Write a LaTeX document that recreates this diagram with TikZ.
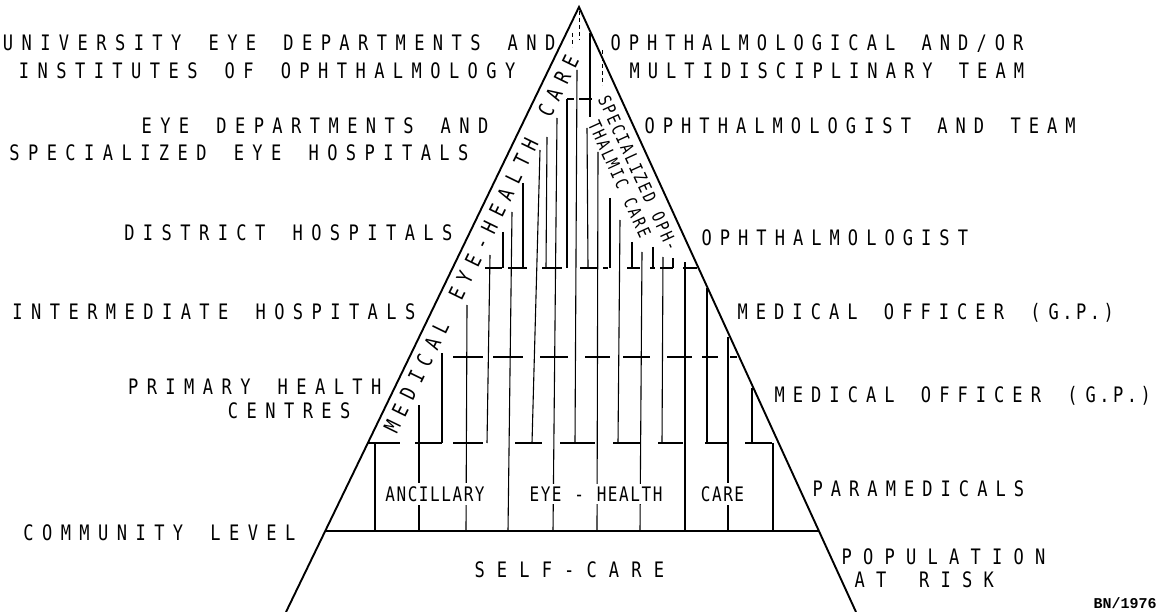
\documentclass[tikz,border=0pt]{standalone}
\usepackage{fontspec}
\usetikzlibrary{calc}
\newfontfamily\plotfont[FakeStretch=0.8]{DejaVu Sans Mono}
\newfontfamily\stampfont{Liberation Mono}
\ExplSyntaxOn
\NewDocumentCommand\spc{mm}
  {
    \str_map_inline:nn {#2}
      {
        \str_if_eq:nnTF {##1} {.}
          { \makebox[0.5\dimexpr #1\relax][c]{.} }
          { \makebox[#1][c]{##1} }
      }
  }
\ExplSyntaxOff
\begin{document}
\begin{tikzpicture}[x=1pt,y=-1pt,
  lab/.style={font=\plotfont\fontsize{21.3}{24}\selectfont, inner sep=0pt},
  sml/.style={font=\plotfont\fontsize{20}{22}\selectfont, inner sep=0pt},
  rot/.style={font=\plotfont\fontsize{17.5}{20}\selectfont, inner sep=0pt},
  tri/.style={line width=1.9pt, line join=miter},
  vl/.style={line width=1.1pt},
  baseln/.style={line width=1.8pt},
  dsh/.style={line width=1pt, dash pattern=on 4pt off 3pt},
  gap/.style={fill=white, inner xsep=2pt, inner ysep=3pt}]
\useasboundingbox (0,0) rectangle (1166,612);
\fill[white] (0,0) rectangle (1166,612);
% triangle
\coordinate (apex) at (579,7);
\coordinate (bl) at (286,612);
\coordinate (br) at (856,612);
\coordinate (eL) at ($(apex)!0.8661!(bl)$);
\coordinate (eR) at ($(apex)!0.8661!(br)$);
% horizontal level segments
\foreach \a/\b in {485/502, 508/527, 542/562, 580/598, 603/608, 627/640, 650/655, 660/673, 683/697}
  \draw[vl] (\a,268) -- (\b,268);
\foreach \a/\b in {453/483, 493/523, 540/568, 585/610, 623/650, 667/692, 702/718, 730/737}
  \draw[vl] (\a,357) -- (\b,357);
\foreach \a/\b in {368/400, 415/442, 453/483, 515/542, 560/595, 613/640, 658/683, 705/728, 745/772}
  \draw[vl] (\a,443) -- (\b,443);
\foreach \a/\b in {567/574, 579/592}
  \draw[vl] (\a,99) -- (\b,99);
% vertical lines
\foreach \xa/\ya/\xb/\yb in {
  375/443/375/531, 419/405/419/531, 467/305/466/531, 512/212/508/531,
  557/118/553/531, 598/152/597/531, 642/252/640/531, 685/262/685/531,
  728/337/728/531, 773/443/773/531,
  442/353/442/443, 490/255/487/443, 540/150/532/443, 577/70/575/443,
  620/220/618/443, 663/257/662/443, 707/288/707/443, 752/388/752/443,
  503/232/503/268, 523/183/523/268, 547/137/546/268, 567/99/567/268,
  587/128/588/268, 610/198/610/268, 632/242/632/268, 653/247/653/268,
  673/258/673/268, 590/33/590/117}
  \draw[vl] (\xa,\ya) -- (\xb,\yb);
\foreach \xa/\ya/\xb/\yb in {579/11/579/40, 602/50/602/85, 572/33/572/47}
  \draw[dsh] (\xa,\ya) -- (\xb,\yb);
\draw[baseln] (eL) -- (eR);
\draw[tri] (bl) -- (apex) -- (br);
% texts inside
\node[lab, anchor=west, rotate=64] (medtxt) at (387.9,435.3) {\spc{18.5pt}{MEDICAL EYE-HEALTH CARE}};
\node[rot, anchor=west, rotate=-65.4] (spec1) at (602.8,95.2) {\spc{10.7pt}{SPECIALIZED OPH-}};
\node[rot, anchor=west, rotate=-65.4] (spec2) at (592.8,120.2) {\spc{10.7pt}{THALMIC CARE}};
\node[sml, gap] (anc) at (435,494) {\spc{11.2pt}{ANCILLARY}};
\node[sml, gap] (eyeh) at (596,494) {\spc{11.2pt}{EYE - HEALTH}};
\node[sml, gap] (care) at (722.5,494) {\spc{11.2pt}{CARE}};
\node[lab, anchor=base west] (self) at (468.3,577.25) {\spc{22.4pt}{SELF-CARE}};
% left labels
\node[lab, anchor=base east] (l1a) at (559.85,50.75) {\spc{18.7pt}{UNIVERSITY EYE DEPARTMENTS AND}};
\node[lab, anchor=base east] (l1b) at (519.85,78.75) {\spc{18.7pt}{INSTITUTES OF OPHTHALMOLOGY}};
\node[lab, anchor=base east] (l2a) at (492.85,133.75) {\spc{18.7pt}{EYE DEPARTMENTS AND}};
\node[lab, anchor=base east] (l2b) at (472.85,160.75) {\spc{18.7pt}{SPECIALIZED EYE HOSPITALS}};
\node[lab, anchor=base east] (l3) at (456.85,240.75) {\spc{18.7pt}{DISTRICT HOSPITALS}};
\node[lab, anchor=base east] (l4) at (419.85,319.75) {\spc{18.7pt}{INTERMEDIATE HOSPITALS}};
\node[lab, anchor=base east] (l5a) at (385.85,394.75) {\spc{18.7pt}{PRIMARY HEALTH}};
\node[lab, anchor=base east] (l5b) at (354.85,418.75) {\spc{18.7pt}{CENTRES}};
\node[lab, anchor=base east] (l6) at (299.85,540.25) {\spc{18.7pt}{COMMUNITY LEVEL}};
% right labels
\node[lab, anchor=base west] (r1a) at (606.35,50.75) {\spc{18.3pt}{OPHTHALMOLOGICAL AND/OR}};
\node[lab, anchor=base west] (r1b) at (625.35,78.75) {\spc{18.3pt}{MULTIDISCIPLINARY TEAM}};
\node[lab, anchor=base west] (r2) at (640.35,133.75) {\spc{18.3pt}{OPHTHALMOLOGIST AND TEAM}};
\node[lab, anchor=base west] (r3) at (697.35,245.75) {\spc{18.3pt}{OPHTHALMOLOGIST}};
\node[lab, anchor=base west] (r4) at (733.35,319.75) {\spc{18.3pt}{MEDICAL OFFICER (G.P.)}};
\node[lab, anchor=base west] (r5) at (770.35,402.75) {\spc{18.3pt}{MEDICAL OFFICER (G.P.)}};
\node[lab, anchor=base west] (r6) at (808.35,496.75) {\spc{18.3pt}{PARAMEDICALS}};
\node[lab, anchor=base west] (r7) at (835.75,564.75) {\spc{21.5pt}{POPULATION}};
\node[lab, anchor=base west] (r8) at (848.75,587.75) {\spc{21.5pt}{AT RISK}};
\node[font=\stampfont\bfseries\fontsize{15}{16}\selectfont, inner sep=0pt] (bn) at (1125,603) {BN/1976};
\end{tikzpicture}
\end{document}
